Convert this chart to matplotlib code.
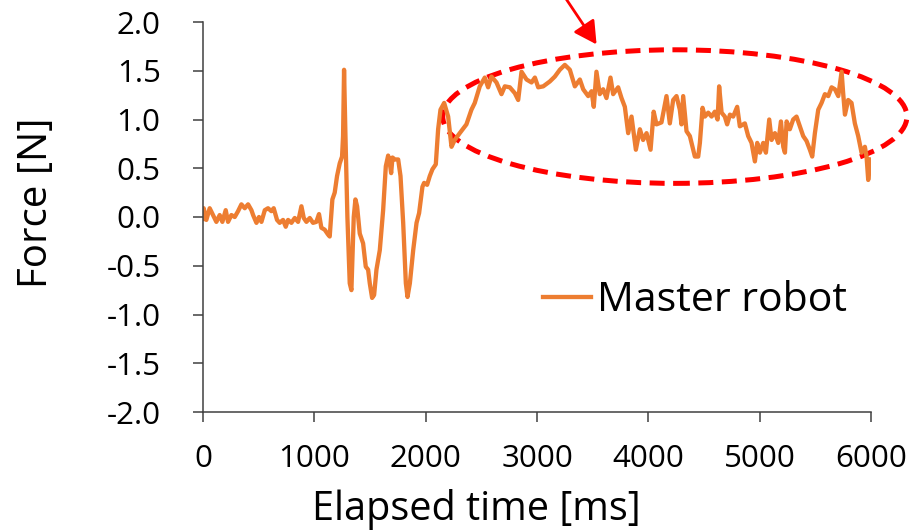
import matplotlib
matplotlib.use("Agg")
import matplotlib.pyplot as plt
from matplotlib.patches import Ellipse

# Master robot force trace
time_ms = [0, 6, 30, 60, 90, 120, 150, 174, 204, 225, 255, 285, 315, 345, 375, 405, 435, 450,
           480, 503, 525, 555, 584, 614, 635, 665, 689, 719, 743, 764, 794, 824, 854, 884, 905,
           929, 959, 988, 1018, 1042, 1063, 1093, 1123, 1138, 1162, 1183, 1204, 1228, 1249, 1258,
           1267, 1279, 1297, 1318, 1333, 1354, 1369, 1384, 1408, 1438, 1462, 1483, 1498, 1519,
           1537, 1558, 1588, 1618, 1642, 1663, 1678, 1690, 1702, 1723, 1753, 1774, 1798, 1822,
           1837, 1858, 1888, 1918, 1941, 1971, 1986, 2013, 2037, 2061, 2091, 2112, 2133, 2166,
           2202, 2232, 2261, 2306, 2366, 2411, 2441, 2486, 2531, 2561, 2591, 2636, 2681, 2711,
           2756, 2801, 2831, 2861, 2906, 2951, 2981, 3011, 3056, 3115, 3160, 3205, 3250, 3295,
           3340, 3385, 3415, 3460, 3490, 3510, 3534, 3564, 3594, 3624, 3660, 3684, 3729, 3759,
           3789, 3819, 3849, 3888, 3924, 3953, 3984, 4020, 4048, 4073, 4118, 4163, 4193, 4223,
           4253, 4283, 4298, 4313, 4343, 4373, 4418, 4448, 4463, 4487, 4508, 4538, 4568, 4597,
           4622, 4636, 4658, 4687, 4708, 4733, 4762, 4798, 4822, 4867, 4897, 4927, 4957, 4978,
           5002, 5032, 5056, 5086, 5107, 5137, 5167, 5191, 5212, 5227, 5242, 5271, 5301, 5331,
           5361, 5391, 5421, 5451, 5472, 5496, 5526, 5556, 5586, 5616, 5646, 5676, 5706, 5736,
           5750, 5766, 5795, 5825, 5855, 5885, 5915, 5945, 5960, 5975, 5997]
force_n = [-0.02, 0.09, -0.03, 0.09, 0.02, -0.05, 0.02, -0.05, 0.07, -0.05, 0.02, 0.0, 0.06, 0.13,
           0.09, 0.13, 0.07, 0.02, -0.06, 0.0, -0.05, 0.07, 0.09, 0.06, 0.09, -0.03, -0.06, -0.03,
           -0.10, -0.03, -0.06, -0.01, -0.05, 0.11, -0.01, -0.05, -0.01, -0.06, -0.05, 0.03, -0.11,
           -0.13, -0.18, -0.20, 0.18, 0.25, 0.42, 0.55, 0.62, 0.83, 1.51, 0.86, 0.0, -0.68, -0.75,
           0.0, 0.18, 0.11, -0.17, -0.27, -0.51, -0.54, -0.68, -0.83, -0.80, -0.54, -0.34, 0.07,
           0.52, 0.63, 0.55, 0.45, 0.61, 0.59, 0.59, 0.42, -0.06, -0.68, -0.82, -0.68, -0.34, -0.06,
           0.04, 0.31, 0.35, 0.33, 0.42, 0.49, 0.54, 0.90, 1.10, 1.17, 1.03, 0.72, 0.79, 0.86, 0.95,
           1.10, 1.17, 1.34, 1.43, 1.33, 1.44, 1.38, 1.26, 1.34, 1.33, 1.27, 1.20, 1.49, 1.41, 1.38,
           1.43, 1.33, 1.34, 1.39, 1.44, 1.51, 1.56, 1.51, 1.34, 1.41, 1.31, 1.24, 1.29, 1.13, 1.49,
           1.26, 1.31, 1.22, 1.43, 1.26, 1.33, 1.22, 1.13, 0.86, 1.03, 0.69, 0.90, 0.79, 0.86, 0.69,
           1.08, 0.95, 0.97, 1.24, 0.96, 1.20, 1.24, 1.10, 0.95, 1.24, 0.88, 0.83, 0.62, 0.62, 0.76,
           1.12, 1.03, 1.07, 1.03, 1.08, 1.00, 1.34, 1.07, 1.03, 0.95, 1.05, 1.03, 1.13, 0.93, 0.96,
           0.83, 0.76, 0.57, 0.76, 0.66, 0.76, 0.66, 1.00, 0.79, 0.86, 0.76, 0.98, 0.72, 0.66, 0.98,
           0.90, 1.00, 1.03, 0.93, 0.83, 0.78, 0.69, 0.62, 0.86, 1.10, 1.17, 1.26, 1.24, 1.33, 1.31,
           1.24, 1.49, 1.27, 1.05, 1.20, 1.17, 0.96, 0.83, 0.66, 0.72, 0.62, 0.38, 0.59]

x_ticks = [0, 1000, 2000, 3000, 4000, 5000, 6000]
y_ticks = [-2.0, -1.5, -1.0, -0.5, 0.0, 0.5, 1.0, 1.5, 2.0]

ORANGE = "#ED7D31"
AXC = "#404040"
FONT = ["Open Sans", "DejaVu Sans"]

fig = plt.figure(figsize=(9.22, 5.32), dpi=100)
ax = fig.add_axes([203 / 922, 1 - 412 / 532, 668 / 922, 390 / 532])

ax.plot(time_ms, force_n, color=ORANGE, lw=3.1, label="Master robot", solid_joinstyle="round")

ax.set_xlim(0, 6000); ax.set_ylim(-2.0, 2.0)
ax.set_xticks(x_ticks); ax.set_xticklabels([str(t) for t in x_ticks], family=FONT, fontsize=22.5)
ax.set_yticks(y_ticks); ax.set_yticklabels([f"{v:.1f}" for v in y_ticks], family=FONT, fontsize=22.5)
for s in ("top", "right"):
    ax.spines[s].set_visible(False)
for s in ("left", "bottom"):
    ax.spines[s].set_color(AXC); ax.spines[s].set_linewidth(1.1)
ax.tick_params(axis="x", direction="out", length=7.5, width=1.1, color=AXC, pad=15.5)
ax.tick_params(axis="y", direction="out", length=7.5, width=1.1, color=AXC, pad=23)

# highlighted region + arrow
ax.add_patch(Ellipse((4238, 1.03), 4169, 1.37, fill=False, edgecolor="#FF0000", lw=3.6,
                     linestyle=(0, (3, 1.7)), clip_on=False))
ax.annotate("", xy=(3535, 1.77), xytext=(3195, 2.35), xycoords="data", textcoords="data",
            annotation_clip=False,
            arrowprops=dict(arrowstyle="-|>,head_length=0.55,head_width=0.3", color="#FF0000",
                            lw=2, mutation_scale=25, shrinkA=0, shrinkB=0))

ax.legend(loc="center left", bbox_to_anchor=(0.509, 0.285), frameon=False, borderpad=0,
          borderaxespad=0, handlelength=1.17, handletextpad=0.15,
          prop={"family": FONT, "size": 29.5})

fig.text(37 / 922, 1 - 203 / 532, "Force [N]", rotation=90, ha="center", va="center",
         family=FONT, fontsize=29)
fig.text(476 / 922, 1 - 520 / 532, "Elapsed time [ms]", ha="center", va="baseline",
         family=FONT, fontsize=28.5)

fig.savefig("out.png", dpi=100)
